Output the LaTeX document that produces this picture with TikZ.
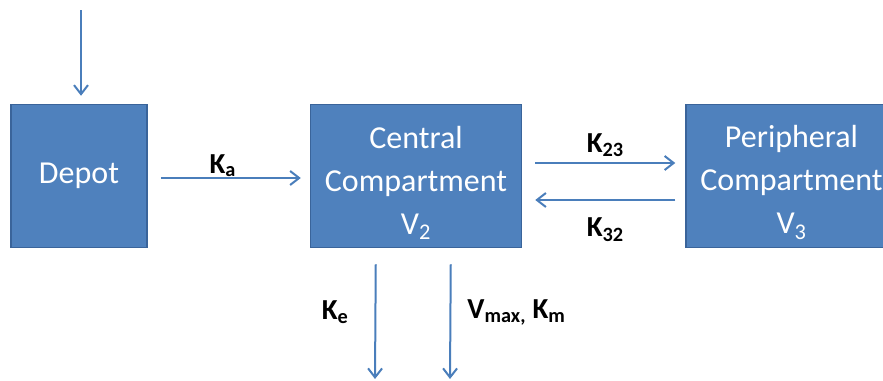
\documentclass[tikz,border=0pt]{standalone}
\usepackage{fontspec}
\setmainfont{Carlito}
\usepackage{tikz}
\usetikzlibrary{arrows.meta, positioning}
\definecolor{boxblue}{HTML}{4F81BD}
\definecolor{boxedge}{HTML}{3A649A}
\definecolor{arrblue}{HTML}{4A7EBB}
\newcommand{\toproom}{\rule{0pt}{36pt}}

\begin{document}
\begin{tikzpicture}[
  x=1pt, y=-1pt,
  node distance=162pt,
  box/.style={draw=boxedge, line width=1.5pt, fill=boxblue, text=white, minimum height=143pt, align=center, inner sep=0pt, font=\fontsize{32}{43}\selectfont},
  widebox/.style={box, minimum width=211pt},
  lbl/.style={inner sep=0pt, text=black, font=\fontsize{29}{32}\selectfont\bfseries},
  arr/.style={-{Straight Barb[length=9pt, width=14pt]}, arrblue, line width=2pt}
]
\useasboundingbox (0,0) rectangle (883,380);

% Compartments in one row
\node[box, minimum width=136pt] (depot) at (79,176) {Depot};
\node[widebox, right=162pt of depot] (central)
  {\toproom Central\\Compartment\\V\textsubscript{2}};
\node[widebox, right=163pt of central] (periph)
  {\toproom Peripheral\\Compartment\\V\textsubscript{3}};

% Free ends
\coordinate (dose) at (81,10);
\coordinate (keout) at (375,379);
\coordinate (vmout) at (450,379);

% Dose into depot
\draw[arr] (dose) -- ([xshift=2pt, yshift=8pt]depot.north);

% Absorption
\draw[arr] ([xshift=13pt, yshift=-2pt]depot.east) -- ([xshift=-9pt, yshift=-2pt]central.west)
  node[midway, above=0pt, xshift=-8pt, lbl] {K\textsubscript{a}};

% Exchange with peripheral
\draw[arr] ([xshift=13pt, yshift=13pt]central.east) -- ([xshift=-10pt, yshift=13pt]periph.west)
  node[midway, above=5pt, lbl] {K\textsubscript{23}};
\draw[arr] ([xshift=-10pt, yshift=-24pt]periph.west) -- ([xshift=13pt, yshift=-24pt]central.east)
  node[midway, below=17pt, lbl] {K\textsubscript{32}};

% Elimination
\draw[arr] ([xshift=66pt, yshift=-16pt]central.south west) -- (keout)
  node[pos=0.42, left=26pt, lbl] {K\textsubscript{e}};
\draw[arr] ([xshift=141pt, yshift=-16pt]central.south west) -- (vmout)
  node[pos=0.42, right=16pt, lbl] {V\textsubscript{max,} K\textsubscript{m}};

\end{tikzpicture}
\end{document}
